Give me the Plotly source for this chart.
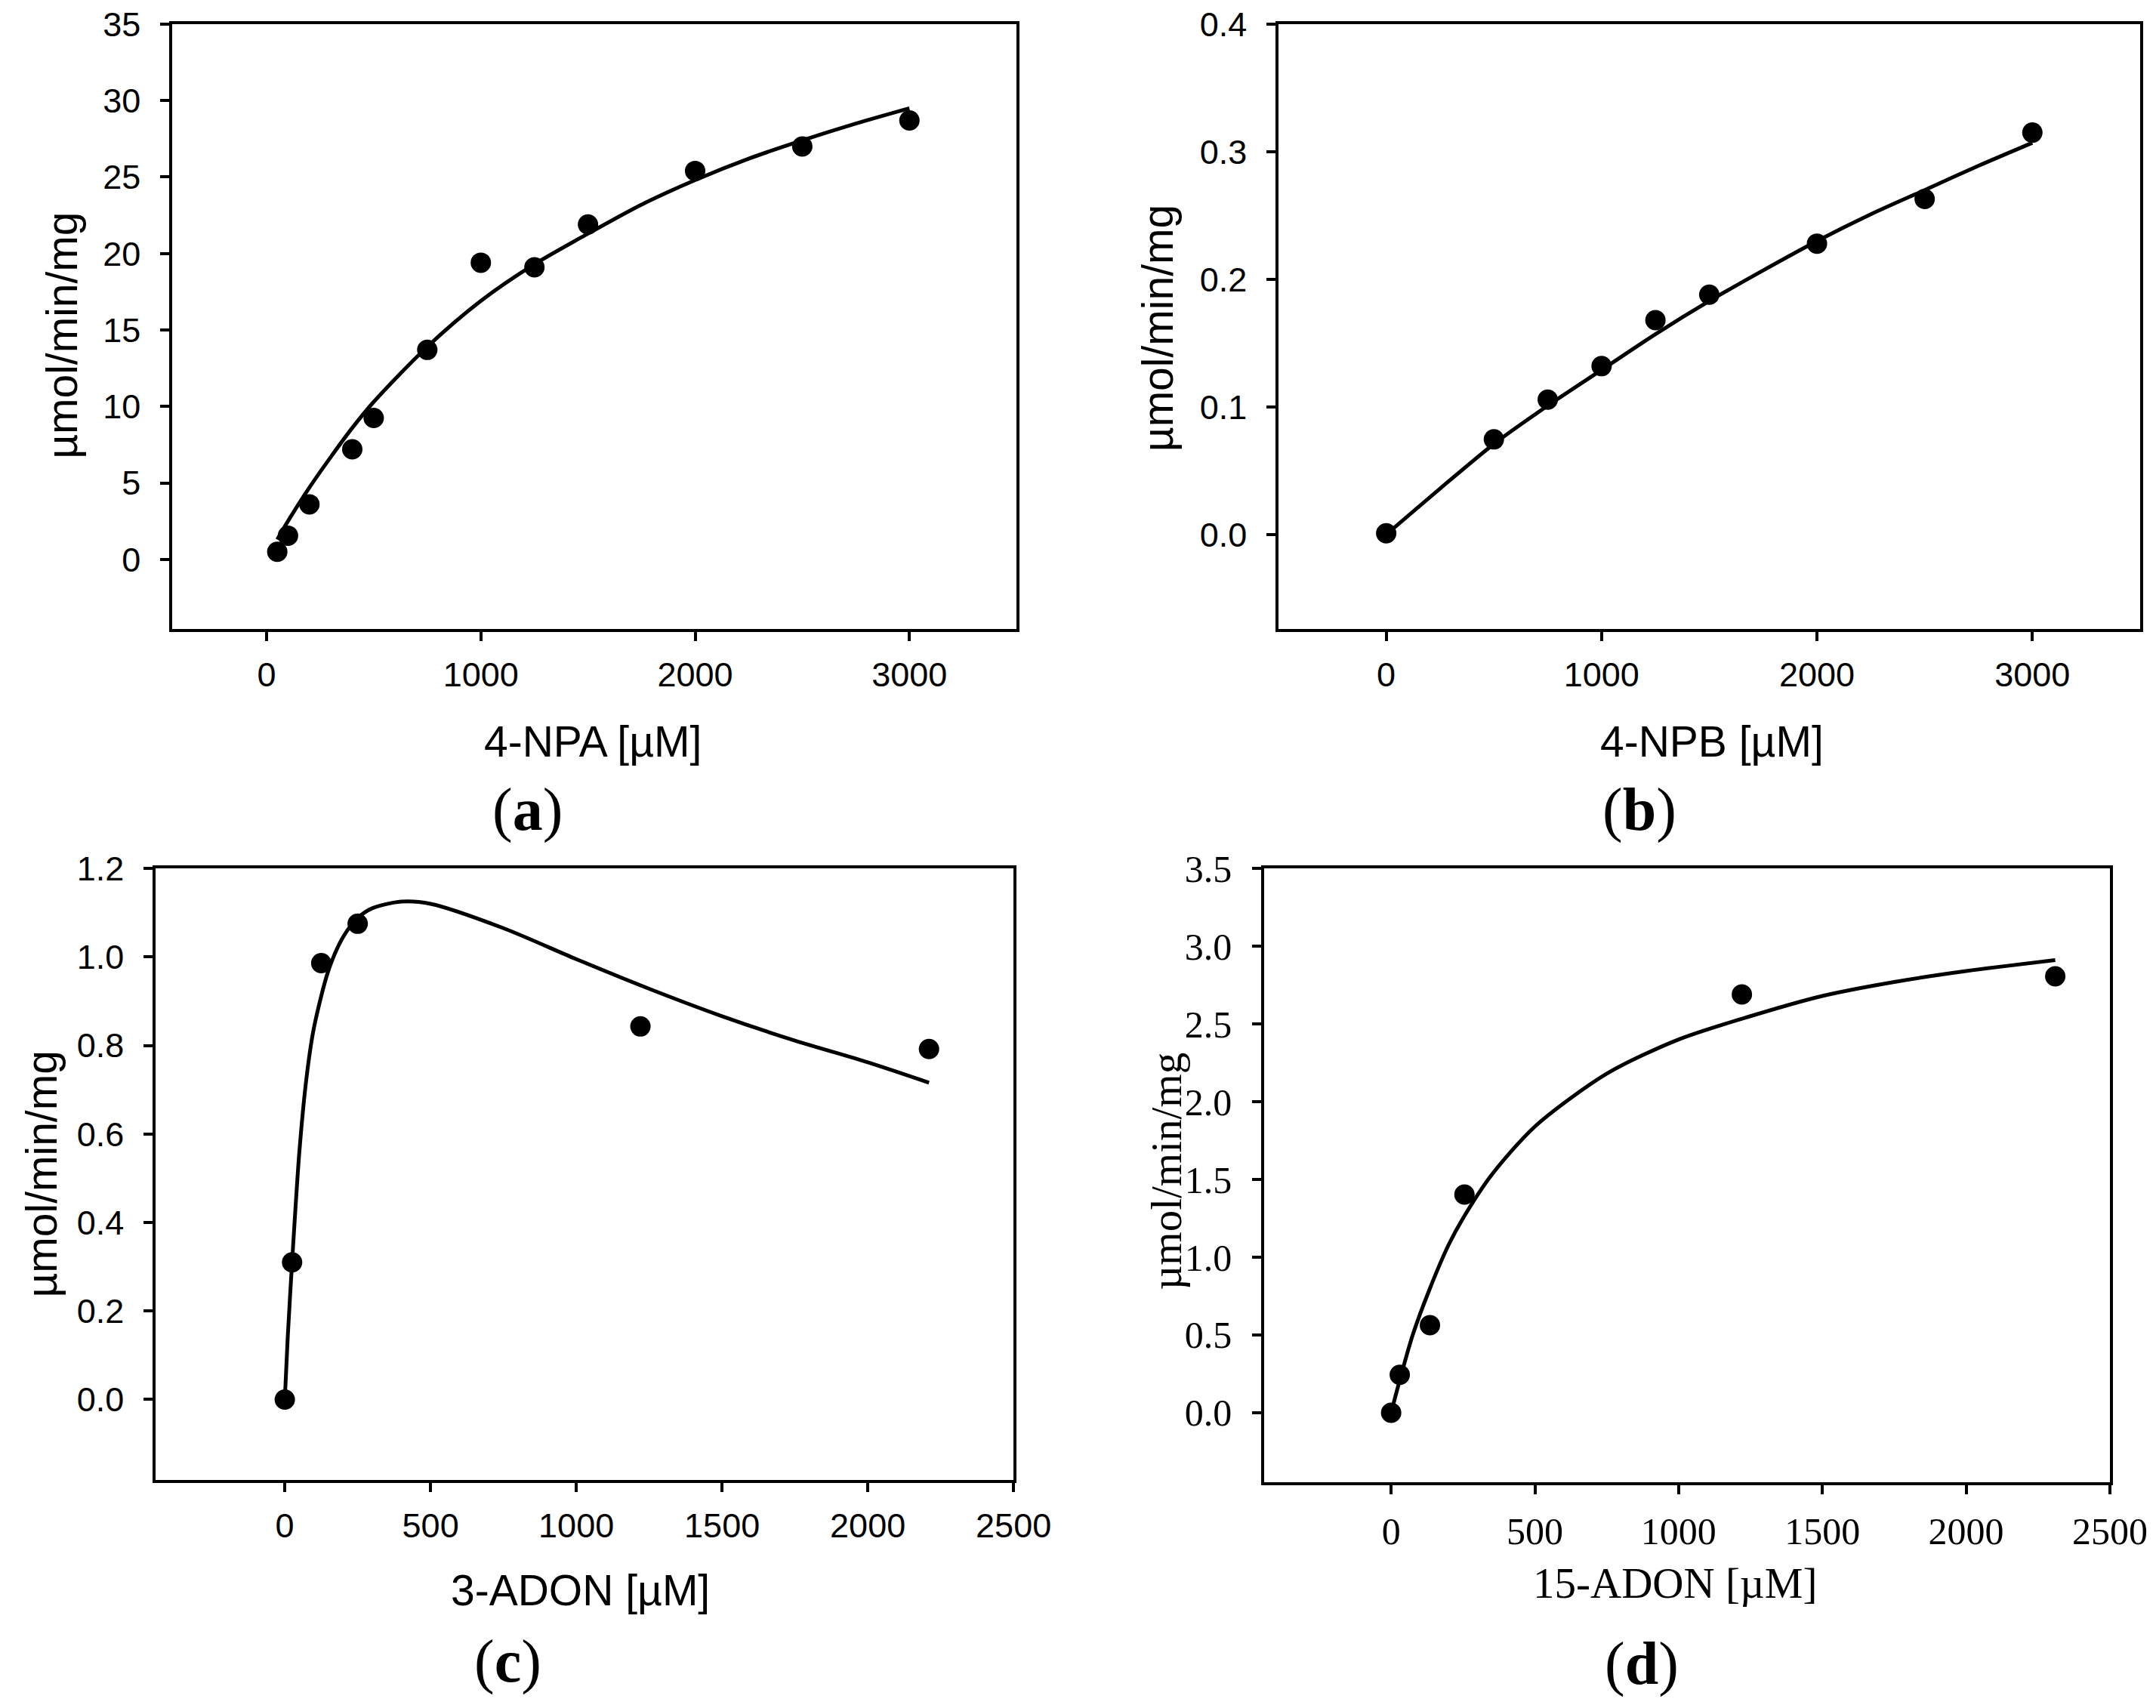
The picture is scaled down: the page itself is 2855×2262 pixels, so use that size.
import plotly.graph_objects as go

# (a) 4-NPA
npa_x = [50, 100, 200, 400, 500, 750, 1000, 1250, 1500, 2000, 2500, 3000]
npa_y = [0.5, 1.55, 3.6, 7.2, 9.25, 13.7, 19.4, 19.1, 21.9, 25.4, 27.0, 28.7]
npa_fit_x = [50, 100, 200, 300, 400, 500, 750, 1000, 1250, 1500, 1750, 2000,
             2250, 2500, 2750, 3000]
npa_fit_y = [1.3, 2.5, 4.7, 6.7, 8.6, 10.3, 13.9, 16.9, 19.3, 21.3, 23.2,
             24.8, 26.2, 27.4, 28.5, 29.5]

# (b) 4-NPB
npb_x = [0, 500, 750, 1000, 1250, 1500, 2000, 2500, 3000]
npb_y = [0.001, 0.0746, 0.1057, 0.132, 0.168, 0.188, 0.228, 0.263, 0.315]
npb_fit_x = [0, 250, 500, 750, 1000, 1250, 1500, 1750, 2000, 2250, 2500,
             2750, 3000]
npb_fit_y = [0.0, 0.036, 0.071, 0.101, 0.129, 0.157, 0.183, 0.207, 0.230,
             0.251, 0.270, 0.289, 0.307]

# (c) 3-ADON
adon3_x = [0, 25, 125, 250, 1220, 2210]
adon3_y = [0.0, 0.31, 0.986, 1.075, 0.843, 0.792]
adon3_fit_x = [0, 10, 25, 50, 75, 100, 150, 200, 250, 300, 400, 500, 750,
               1000, 1250, 1500, 1750, 2000, 2210]
adon3_fit_y = [0.0, 0.14, 0.31, 0.56, 0.73, 0.84, 0.97, 1.045, 1.088, 1.11,
               1.125, 1.12, 1.065, 0.995, 0.928, 0.866, 0.811, 0.762, 0.716]

# (d) 15-ADON
adon15_x = [0, 30, 135, 255, 1220, 2310]
adon15_y = [0.0, 0.244, 0.563, 1.403, 2.69, 2.806]
adon15_fit_x = [0, 30, 75, 135, 200, 250, 350, 500, 750, 1000, 1250, 1500,
                1750, 2000, 2310]
adon15_fit_y = [0.0, 0.21, 0.5, 0.8, 1.08, 1.25, 1.53, 1.84, 2.18, 2.4,
                2.55, 2.68, 2.77, 2.84, 2.91]

SANS = 'Arial, Liberation Sans, sans-serif'
SERIF = 'Times New Roman, Liberation Serif, serif'

panels = [
    dict(x=npa_x, y=npa_y, fx=npa_fit_x, fy=npa_fit_y,
         xdom=[0.0771, 0.4687], ydom=[0.6353, 0.9894],
         xrange=[-440, 3500], yrange=[-4.55, 35],
         xticks=[0, 1000, 2000, 3000], yticks=list(range(0, 36, 5)),
         yfmt='d', font=SANS, fsize=45),
    dict(x=npb_x, y=npb_y, fx=npb_fit_x, fy=npb_fit_y,
         xdom=[0.5902, 0.9898], ydom=[0.6353, 0.9894],
         xrange=[-500, 3500], yrange=[-0.074, 0.4],
         xticks=[0, 1000, 2000, 3000], yticks=[0, 0.1, 0.2, 0.3, 0.4],
         yfmt='.1f', font=SANS, fsize=45),
    dict(x=adon3_x, y=adon3_y, fx=adon3_fit_x, fy=adon3_fit_y,
         xdom=[0.0694, 0.4673], ydom=[0.1370, 0.4951],
         xrange=[-443, 2500], yrange=[-0.182, 1.2],
         xticks=[0, 500, 1000, 1500, 2000, 2500],
         yticks=[0, 0.2, 0.4, 0.6, 0.8, 1.0, 1.2],
         yfmt='.1f', font=SANS, fsize=45),
    dict(x=adon15_x, y=adon15_y, fx=adon15_fit_x, fy=adon15_fit_y,
         xdom=[0.5835, 0.9758], ydom=[0.1357, 0.4951],
         xrange=[-442, 2500], yrange=[-0.447, 3.5],
         xticks=[0, 500, 1000, 1500, 2000, 2500],
         yticks=[0, 0.5, 1.0, 1.5, 2.0, 2.5, 3.0, 3.5],
         yfmt='.1f', font=SERIF, fsize=50),
]

fig = go.Figure()
layout = {}
for i, p in enumerate(panels, start=1):
    xa = 'x' if i == 1 else f'x{i}'
    ya = 'y' if i == 1 else f'y{i}'
    fig.add_trace(go.Scatter(x=p['fx'], y=p['fy'], mode='lines',
                             line=dict(color='black', width=5,
                                       shape='spline', smoothing=0.8),
                             xaxis=xa, yaxis=ya, showlegend=False))
    fig.add_trace(go.Scatter(x=p['x'], y=p['y'], mode='markers',
                             marker=dict(color='black', size=27),
                             xaxis=xa, yaxis=ya, showlegend=False))
    common = dict(showgrid=False, zeroline=False, showline=True, mirror=True,
                  linecolor='black', linewidth=3.5, ticks='outside',
                  ticklen=12, tickwidth=3.5, tickcolor='black', automargin=False,
                  ticklabeloverflow='allow',
                  tickfont=dict(family=p['font'], size=p['fsize'],
                                color='black'))
    layout['xaxis' if i == 1 else f'xaxis{i}'] = dict(
        common, domain=p['xdom'], range=p['xrange'], tickvals=p['xticks'],
        anchor=ya, ticklabelstandoff=6)
    layout['yaxis' if i == 1 else f'yaxis{i}'] = dict(
        common, domain=p['ydom'], range=p['yrange'], tickvals=p['yticks'],
        tickformat=p['yfmt'], anchor=xa, ticklabelstandoff=17)

texts = [
    ('4-NPA [µM]', 0.2722, 0.5694, 0, SANS, 57),
    ('4-NPB [µM]', 0.7912, 0.5694, 0, SANS, 57),
    ('3-ADON [µM]', 0.2662, 0.0725, 0, SANS, 57),
    ('15-ADON [µM]', 0.7741, 0.0765, 0, SERIF, 57),
    ('µmol/min/mg', 0.0259, 0.8073, -90, SANS, 57),
    ('µmol/min/mg', 0.5342, 0.8112, -90, SANS, 57),
    ('µmol/min/mg', 0.0163, 0.3161, -90, SANS, 57),
    ('µmol/min/mg', 0.5383, 0.3180, -90, SERIF, 57),
    ('(<b>a</b>)', 0.2417, 0.5292, 0, SERIF, 80),
    ('(<b>b</b>)', 0.7576, 0.5292, 0, SERIF, 80),
    ('(<b>c</b>)', 0.2326, 0.0309, 0, SERIF, 80),
    ('(<b>d</b>)', 0.7587, 0.0296, 0, SERIF, 80),
]
annotations = [dict(text=t, x=x, y=y, xref='paper', yref='paper',
                    xanchor='center', yanchor='middle', textangle=a,
                    showarrow=False, font=dict(family=f, size=s, color='black'))
               for t, x, y, a, f, s in texts]

fig.update_layout(width=2855, height=2262,
                  margin=dict(l=0, r=0, t=0, b=0),
                  paper_bgcolor='white', plot_bgcolor='white',
                  annotations=annotations, **layout)
fig.write_html('out.html')
